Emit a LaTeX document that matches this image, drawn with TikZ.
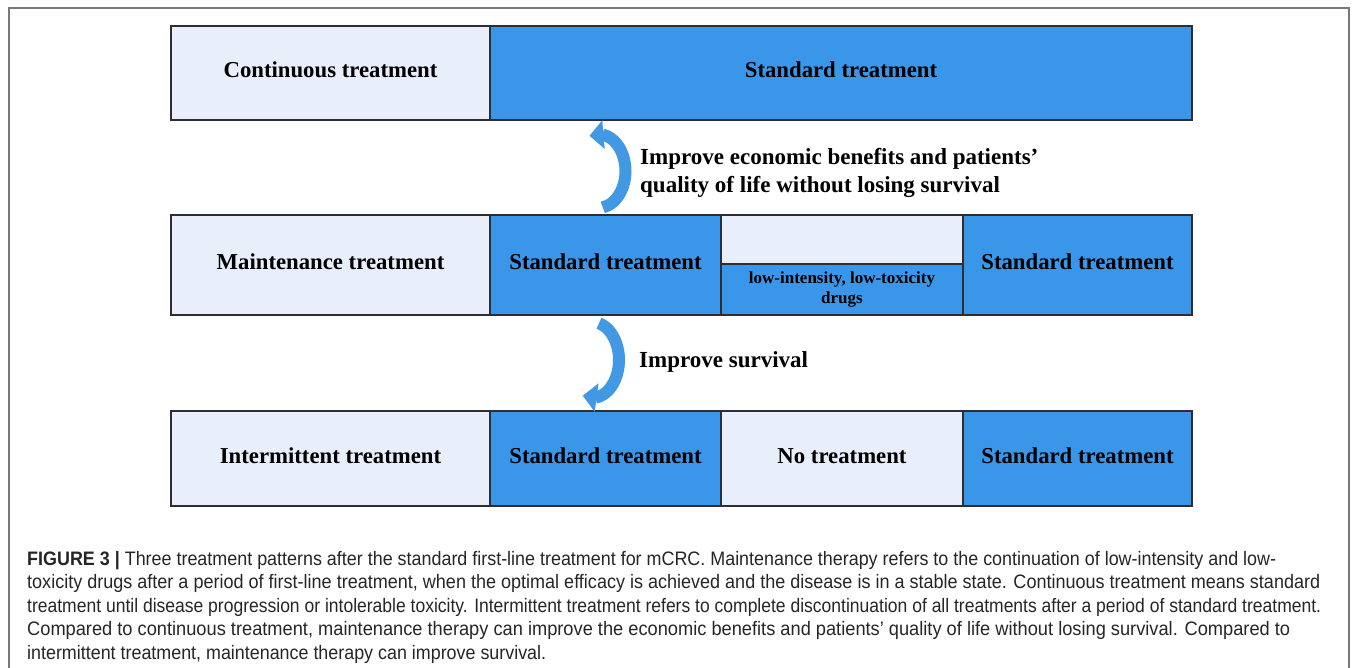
\documentclass[tikz,border=0pt]{standalone}
\usepackage{fontspec}
\usepackage{graphicx}
\setmainfont{Liberation Serif}
\newfontfamily\capfont{Liberation Sans}
\usetikzlibrary{arrows.meta,bending}
\definecolor{lightbox}{RGB}{232,238,250}
\definecolor{bluebox}{RGB}{58,150,232}
\definecolor{arrowblue}{RGB}{66,152,226}
\definecolor{edgecol}{RGB}{45,45,50}
\definecolor{framegray}{RGB}{120,120,120}
\begin{document}
\begin{tikzpicture}[x=1pt,y=-1pt,
  plainbox/.style={draw=edgecol, line width=1.1pt, inner sep=0pt, anchor=center},
  box/.style={plainbox, text height=15pt, text depth=5pt,
    font=\bfseries\fontsize{22.75}{26}\selectfont},
  lbox/.style={box, fill=lightbox},
  bbox/.style={box, fill=bluebox},
  lowbox/.style={plainbox, fill=bluebox, align=center, font=\bfseries\fontsize{17}{20}\selectfont},
  curarrow/.style={draw=arrowblue, line width=12pt, -{Triangle[width=28pt,length=14pt]}},
  note/.style={inner sep=0pt, anchor=west, align=left, font=\bfseries\fontsize{23}{28}\selectfont},
  capline/.style={inner sep=0pt, anchor=base west, text=black!85, font=\capfont\fontsize{19.5}{22}\selectfont}]
\useasboundingbox (0,0) rectangle (1355,668);
\fill[white] (0,0) rectangle (1355,668);
% frame
\draw[framegray, line width=1.2pt] (9,668) -- (9,8) -- (1349,8) -- (1349,668);
% row 1
\node[lbox, minimum width=319pt, minimum height=94pt] (cont) at (330.5,73) {Continuous treatment};
\node[bbox, minimum width=702pt, minimum height=94pt] (std1) at (841,73) {Standard treatment};
% row 2
\node[lbox, minimum width=319pt, minimum height=100pt] (maint) at (330.5,265) {Maintenance treatment};
\node[bbox, minimum width=231pt, minimum height=100pt] (std2) at (605.5,265) {Standard treatment};
\node[plainbox, fill=lightbox, minimum width=242pt, minimum height=49pt] (gap) at (842,239.5) {};
\node[lowbox, minimum width=242pt, minimum height=51pt] (low) at (842,289.5) {low-intensity, low-toxicity\\drugs};
\node[bbox, minimum width=229pt, minimum height=100pt] (std3) at (1077.5,265) {Standard treatment};
% row 3
\node[lbox, minimum width=319pt, minimum height=95pt] (inter) at (330.5,458.5) {Intermittent treatment};
\node[bbox, minimum width=231pt, minimum height=95pt] (std4) at (605.5,458.5) {Standard treatment};
\node[lbox, minimum width=242pt, minimum height=95pt] (none) at (842,458.5) {No treatment};
\node[bbox, minimum width=229pt, minimum height=95pt] (std5) at (1077.5,458.5) {Standard treatment};
% curved arrows
\coordinate (a1c) at (598,171);
\draw[curarrow] (a1c) ++(80:27.5 and 37) arc[start angle=80, end angle=-108, x radius=27.5, y radius=37];
\coordinate (a2c) at (592,360);
\draw[curarrow] (a2c) ++(-75:27 and 38) arc[start angle=-75, end angle=110, x radius=27, y radius=38];
% arrow labels
\node[note] (note1) at (640,173) {Improve economic benefits and patients’\\quality of life without losing survival};
\node[note] (note2) at (639,362) {Improve survival};
% caption
\node[capline] (cap1) at (27,565) {\resizebox{1249pt}{\height}{\textbf{FIGURE 3 |} Three treatment patterns after the standard first-line treatment for mCRC. Maintenance therapy refers to the continuation of low-intensity and low-}};
\node[capline] (cap2) at (27,588.5) {\resizebox{1293pt}{\height}{toxicity drugs after a period of first-line treatment, when the optimal efficacy is achieved and the disease is in a stable state. Continuous treatment means standard}};
\node[capline] (cap3) at (27,612) {\resizebox{1294pt}{\height}{treatment until disease progression or intolerable toxicity. Intermittent treatment refers to complete discontinuation of all treatments after a period of standard treatment.}};
\node[capline] (cap4) at (27,635.5) {\resizebox{1263pt}{\height}{Compared to continuous treatment, maintenance therapy can improve the economic benefits and patients’ quality of life without losing survival. Compared to}};
\node[capline] (cap5) at (27,659) {\resizebox{519pt}{\height}{intermittent treatment, maintenance therapy can improve survival.}};
\end{tikzpicture}
\end{document}
